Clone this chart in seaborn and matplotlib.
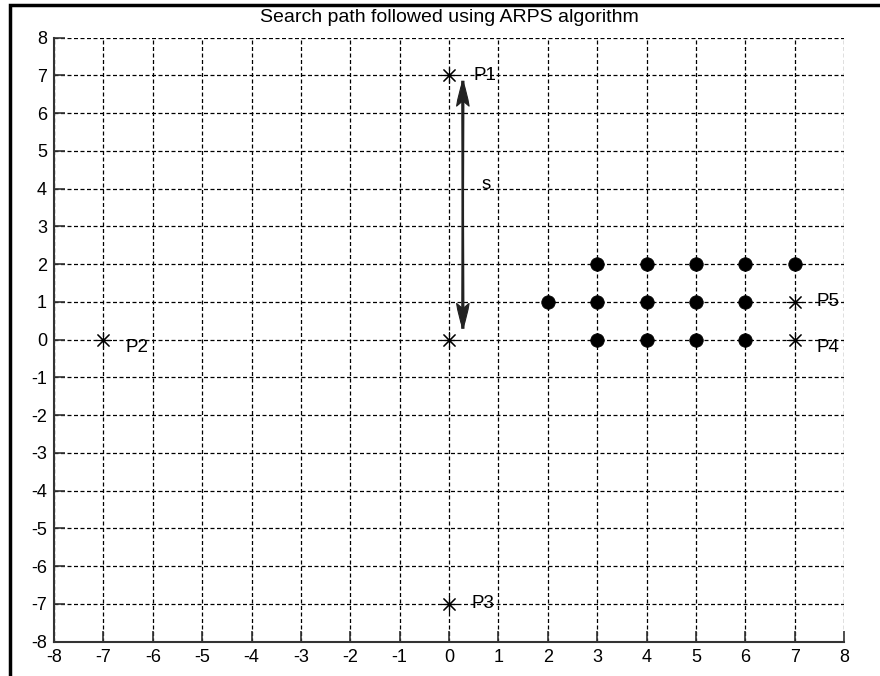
import matplotlib
matplotlib.use("Agg")
import matplotlib.pyplot as plt
from matplotlib.patches import Rectangle
import seaborn as sns
import pandas as pd

# Candidate points visited in the small-diamond refinement stage
dot_x = [2, 3, 3, 3, 4, 4, 4, 5, 5, 5, 6, 6, 6, 7]
dot_y = [1, 0, 1, 2, 0, 1, 2, 0, 1, 2, 0, 1, 2, 2]

# Points of the initial rood pattern (centre, arms and predicted vector)
star_x = [0, 0, -7, 0, 7, 7]
star_y = [0, 7, 0, -7, 0, 1]

# Labels for the rood pattern points
label_text = ["P1", "P2", "P3", "P4", "P5", "s"]
label_x = [0.5, -6.55, 0.45, 7.45, 7.45, 0.65]
label_y = [7.0, -0.2, -7.0, -0.2, 1.0, 4.1]

# Step size arrow between the centre and P1
arrow_x = [0.28, 0.28]
arrow_y = [0.3, 6.85]

ticks = list(range(-8, 9))
title = "Search path followed using ARPS algorithm"

sns.set_theme(style="white")
plt.rcParams["font.family"] = ["Liberation Sans", "DejaVu Sans"]

fig = plt.figure(figsize=(8.8, 6.76), dpi=100)
ax = fig.add_axes([0.0614, 0.0507, 0.8977, 0.8935])

dots = pd.DataFrame({"x": dot_x, "y": dot_y})
stars = pd.DataFrame({"x": star_x, "y": star_y})

sns.scatterplot(data=dots, x="x", y="y", ax=ax, marker="o", s=95,
                color="black", edgecolor="black", linewidth=0.5, zorder=4)
sns.scatterplot(data=stars, x="x", y="y", ax=ax, marker=(8, 2, 0), s=130,
                color="black", edgecolor="black", linewidth=0.8, zorder=4)

for t, x, y in zip(label_text, label_x, label_y):
    ax.text(x, y, t, fontsize=13.5, ha="left", va="center", color="black", zorder=5)

ax.annotate("", xy=(arrow_x[1], arrow_y[1]), xytext=(arrow_x[0], arrow_y[0]),
            arrowprops=dict(arrowstyle="fancy,head_length=0.9,head_width=0.45,tail_width=0.08",
                            color="#222222", lw=0.8,
                            mutation_scale=20, shrinkA=0, shrinkB=0),
            zorder=5)
ax.annotate("", xy=(arrow_x[0], arrow_y[0]), xytext=(arrow_x[1], arrow_y[1]),
            arrowprops=dict(arrowstyle="fancy,head_length=0.9,head_width=0.45,tail_width=0.08",
                            color="#222222", lw=0.8,
                            mutation_scale=20, shrinkA=0, shrinkB=0),
            zorder=5)

ax.set_xlim(-8, 8)
ax.set_ylim(-8, 8)
ax.set_xticks(ticks)
ax.set_yticks(ticks)
ax.set_xticklabels([str(v) for v in ticks])
ax.set_yticklabels([str(v) for v in ticks])
ax.set_xlabel("")
ax.set_ylabel("")

ax.grid(True, color="black", linestyle=(0, (3.2, 2.0)), linewidth=0.9)
ax.set_axisbelow(True)

ax.tick_params(axis="both", direction="in", length=8, width=1.2,
               color="#333333", labelsize=13, labelcolor="black", pad=5)
ax.tick_params(axis="both", which="both", top=False, right=False,
               bottom=True, left=True)

for side in ["top", "right"]:
    ax.spines[side].set_visible(False)
for side in ["left", "bottom"]:
    ax.spines[side].set_color("#333333")
    ax.spines[side].set_linewidth(1.5)

ax.set_title(title, fontsize=14, color="black", pad=11)

# Figure frame (only its top and left edges fall inside the canvas)
fig.patches.append(Rectangle((9.5 / 880, -0.5), 2.0, 0.5 + 1 - 4.5 / 676,
                             transform=fig.transFigure, fill=False,
                             edgecolor="black", linewidth=2.5, clip_on=False))

fig.savefig("out.png", dpi=100)
